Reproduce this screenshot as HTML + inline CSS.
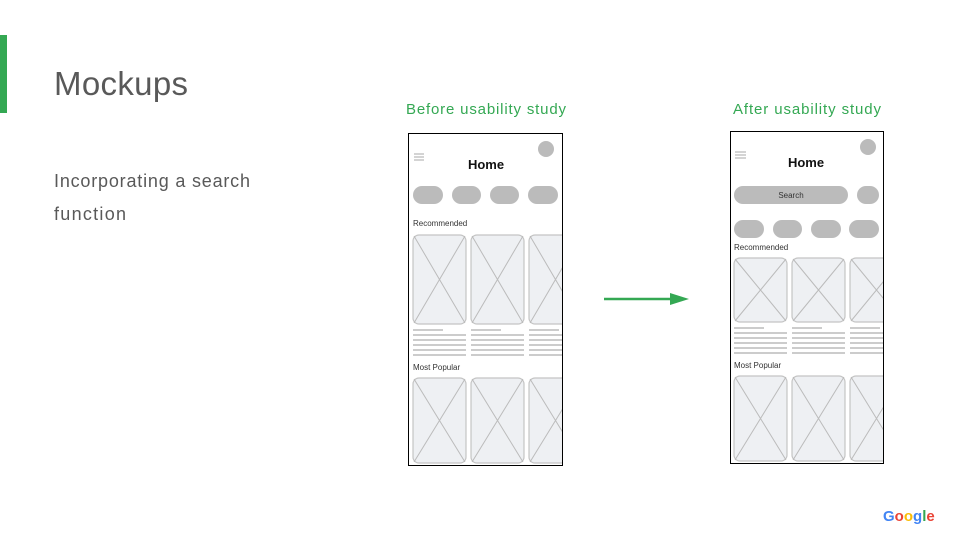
<!DOCTYPE html>
<html><head><meta charset="utf-8"><style>
body{margin:0;width:960px;height:540px;background:#fff;overflow:hidden;font-family:"Liberation Sans",sans-serif}
</style></head><body>
<svg width="960" height="540" viewBox="0 0 960 540" xmlns="http://www.w3.org/2000/svg" font-family="Liberation Sans, sans-serif">
<defs>
<clipPath id="c1"><rect x="409" y="134" width="153" height="331"/></clipPath>
<clipPath id="c2"><rect x="731" y="132" width="152" height="331"/></clipPath>
</defs>
<rect x="0" y="35" width="7" height="78" fill="#34a853"/>
<text x="54" y="95" font-size="33" fill="#595959" textLength="134">Mockups</text>
<text x="54" y="187" font-size="18" fill="#595959" textLength="196">Incorporating a search</text>
<text x="54" y="220" font-size="18" fill="#595959" textLength="72">function</text>
<text x="406" y="114" font-size="15" fill="#34a853" textLength="160">Before usability study</text>
<text x="733" y="114" font-size="15" fill="#34a853" textLength="148">After usability study</text>
<line x1="604" y1="299" x2="672" y2="299" stroke="#34a853" stroke-width="2.5"/>
<polygon points="670,293 689,299 670,305" fill="#34a853"/>

<!-- Phone 1 -->
<g clip-path="url(#c1)">
<g stroke="#aaa" stroke-width="1"><line x1="414" y1="154" x2="424" y2="154"/><line x1="414" y1="157" x2="424" y2="157"/><line x1="414" y1="160" x2="424" y2="160"/></g>
<text x="486" y="169" font-size="13" font-weight="bold" fill="#111" text-anchor="middle">Home</text>
<circle cx="546" cy="149" r="8" fill="#bbb"/>
<g fill="#bbb"><rect x="413" y="186" width="30" height="18" rx="9"/><rect x="452" y="186" width="29" height="18" rx="9"/><rect x="490" y="186" width="29" height="18" rx="9"/><rect x="528" y="186" width="30" height="18" rx="9"/></g>
<text x="413" y="226" font-size="8" fill="#333">Recommended</text>
<g fill="#eef0f3" stroke="#c4c4c4" stroke-width="1.2">
<rect x="413" y="235" width="53" height="89" rx="6"/><rect x="471" y="235" width="53" height="89" rx="6"/><rect x="529" y="235" width="53" height="89" rx="6"/>
<rect x="413" y="378" width="53" height="85" rx="6"/><rect x="471" y="378" width="53" height="85" rx="6"/><rect x="529" y="378" width="53" height="85" rx="6"/>
</g>
<g stroke="#bbb" stroke-width="1">
<path d="M414 236L465 323M465 236L414 323M472 236L523 323M523 236L472 323M530 236L581 323M581 236L530 323"/>
<path d="M414 379L465 462M465 379L414 462M472 379L523 462M523 379L472 462M530 379L581 462M581 379L530 462"/>
</g>
<g stroke="#bbb" stroke-width="1.5">
<path d="M413 330H443M471 330H501M529 330H559"/>
<path d="M413 335H466M471 335H524M529 335H563M413 340H466M471 340H524M529 340H563M413 345H466M471 345H524M529 345H563M413 350H466M471 350H524M529 350H563M413 355H466M471 355H524M529 355H563"/>
</g>
<text x="413" y="370" font-size="8" fill="#333">Most Popular</text>
</g>
<rect x="408.5" y="133.5" width="154" height="332" fill="none" stroke="#000" stroke-width="1"/>

<!-- Phone 2 -->
<g clip-path="url(#c2)">
<g stroke="#aaa" stroke-width="1"><line x1="735" y1="152" x2="746" y2="152"/><line x1="735" y1="155" x2="746" y2="155"/><line x1="735" y1="158" x2="746" y2="158"/></g>
<text x="806" y="167" font-size="13" font-weight="bold" fill="#111" text-anchor="middle">Home</text>
<circle cx="868" cy="147" r="8" fill="#bbb"/>
<rect x="734" y="186" width="114" height="18" rx="9" fill="#bbb"/>
<text x="791" y="198" font-size="8" fill="#333" text-anchor="middle">Search</text>
<rect x="857" y="186" width="22" height="18" rx="9" fill="#bbb"/>
<g fill="#bbb"><rect x="734" y="220" width="30" height="18" rx="9"/><rect x="773" y="220" width="29" height="18" rx="9"/><rect x="811" y="220" width="30" height="18" rx="9"/><rect x="849" y="220" width="30" height="18" rx="9"/></g>
<text x="734" y="250" font-size="8" fill="#333">Recommended</text>
<g fill="#eef0f3" stroke="#c4c4c4" stroke-width="1.2">
<rect x="734" y="258" width="53" height="64" rx="6"/><rect x="792" y="258" width="53" height="64" rx="6"/><rect x="850" y="258" width="53" height="64" rx="6"/>
<rect x="734" y="376" width="53" height="85" rx="6"/><rect x="792" y="376" width="53" height="85" rx="6"/><rect x="850" y="376" width="53" height="85" rx="6"/>
</g>
<g stroke="#bbb" stroke-width="1">
<path d="M735 259L786 321M786 259L735 321M793 259L844 321M844 259L793 321M851 259L902 321M902 259L851 321"/>
<path d="M735 377L786 460M786 377L735 460M793 377L844 460M844 377L793 460M851 377L902 460M902 377L851 460"/>
</g>
<g stroke="#bbb" stroke-width="1.5">
<path d="M734 328H764M792 328H822M850 328H880"/>
<path d="M734 333H787M792 333H845M850 333H884M734 338H787M792 338H845M850 338H884M734 343H787M792 343H845M850 343H884M734 348H787M792 348H845M850 348H884M734 353H787M792 353H845M850 353H884"/>
</g>
<text x="734" y="368" font-size="8" fill="#333">Most Popular</text>
</g>
<rect x="730.5" y="131.5" width="153" height="332" fill="none" stroke="#000" stroke-width="1"/>

<text x="883" y="521" font-size="15" font-weight="bold"><tspan fill="#4285f4">G</tspan><tspan fill="#ea4335">o</tspan><tspan fill="#fbbc05">o</tspan><tspan fill="#4285f4">g</tspan><tspan fill="#34a853">l</tspan><tspan fill="#ea4335">e</tspan></text>
</svg>
</body></html>
